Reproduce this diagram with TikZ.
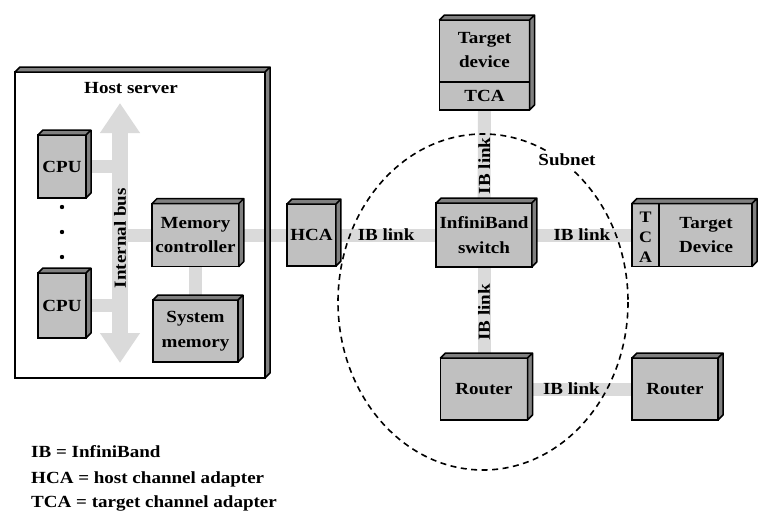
\documentclass[tikz,border=0pt]{standalone}
\usepackage{fontspec}
\setmainfont{Liberation Serif}[FakeStretch=1.12]
\usetikzlibrary{arrows.meta,backgrounds}
\definecolor{BoxGray}{RGB}{192,192,192}
\definecolor{SideGray}{RGB}{128,128,128}
\definecolor{LinkGray}{RGB}{218,218,218}
\newcommand{\diagfont}{\fontsize{17}{24.5}\selectfont\bfseries}
% top and right faces of a box
\newcommand{\boxsides}[1]{%
  \filldraw[fill=SideGray,line width=1.5pt,line join=round]
    (#1.north west) -- ++(5,-5) -- ([shift={(5,-5)}]#1.north east)
    -- ([shift={(5,-5)}]#1.south east) -- (#1.south east) -- (#1.north east) -- cycle
    (#1.north east) -- ++(5,-5);}

\begin{document}
\begin{tikzpicture}[x=1pt,y=-1pt,>=Latex,
    box/.style={draw,line width=1.5pt,fill=BoxGray,outer sep=0pt,align=center,font=\diagfont},
    txt/.style={font=\diagfont,text=black,align=center,inner sep=1pt},
    link/.style={line width=13pt,LinkGray},
    bus/.style={line width=16pt,LinkGray,{Triangle[length=30pt,width=38pt]}-{Triangle[length=30pt,width=38pt]}}]
  \useasboundingbox (0,0) rectangle (770,525);

  % host side
  \node[draw,line width=1.5pt,outer sep=0pt,minimum width=250pt,minimum height=306pt] (host) at (140,225) {};
  \boxsides{host}
  \node[txt] (hostlbl) at (131,88) {Host server};
  \coordinate (busT) at (120,103);
  \coordinate (busB) at (120,363);
  \node[box,minimum width=48pt,minimum height=63pt] (cpuA) at (62,166.5) {CPU};
  \node[box,minimum width=48pt,minimum height=65pt] (cpuB) at (62,305.5) {CPU};
  \foreach \y in {207,232,257} \fill (62,\y) circle (2.2pt);
  \node[box,minimum width=85pt,minimum height=63pt] (mc) at (195.5,235) {Memory\\controller};
  \node[box,minimum width=85pt,minimum height=62pt] (sysmem) at (195.5,331) {System\\memory};
  \node[box,minimum width=47pt,minimum height=62pt] (hca) at (311.5,235) {HCA};
  \foreach \n in {cpuA,cpuB,mc,sysmem,hca} \boxsides{\n};

  % subnet
  \node[box,minimum width=87pt,minimum height=64pt] (sw) at (484,235) {InfiniBand\\switch};
  \node[box,minimum width=90pt,minimum height=90pt] (tgt) at (484.5,65) {};
  \node[txt] (tgtlbl) at (484.5,50) {Target\\device};
  \node[txt] (tcaT) at (484.5,96) {TCA};
  \draw[line width=1.5pt] ([yshift=-62pt]tgt.north west) -- ([yshift=-62pt]tgt.north east);
  \node[box,minimum width=120pt,minimum height=63pt] (tdevR) at (692,235) {};
  \draw[line width=1.5pt] ([xshift=27pt]tdevR.north west) -- ([xshift=27pt]tdevR.south west);
  \node[txt,font=\fontsize{16}{20}\selectfont\bfseries] (tcaR) at (645.5,237) {T\\C\\A};
  \node[txt] (tdevRlbl) at (706,235) {Target\\Device};
  \node[box,minimum width=87pt,minimum height=62pt] (rtrA) at (484,389) {Router};
  \node[box,minimum width=86pt,minimum height=62pt] (rtrB) at (675,389) {Router};
  \foreach \n in {sw,tgt,tdevR,rtrA,rtrB} \boxsides{\n};

  \begin{scope}[on background layer]
    \draw[link] (cpuA.center) -- (cpuA.center -| busT);
    \draw[link] (cpuB.center) -- (cpuB.center -| busT);
    \draw[link] (mc.center) -- (mc.center -| busT);
    \draw[link] (mc) -- (sysmem);
    \draw[link] (mc) -- (hca);
    \draw[bus] (busT) -- (busB) node[txt,pos=.52,rotate=90] {Internal bus};
    \draw[link] (hca.east) -- (sw.west) node[txt,midway] {IB link};
    \draw[link] (tgt.south) -- (sw.north) node[txt,pos=.6,rotate=90] {IB link};
    \draw[link] (sw.east) -- (tdevR.west) node[txt,midway] {IB link};
    \draw[link] (sw.south) -- (rtrA.north) node[txt,midway,rotate=90] {IB link};
    \draw[link] (rtrA.east) -- (rtrB.west) node[txt,pos=.42] {IB link};
  \end{scope}

  \draw[line width=1.6pt,dash pattern=on 6pt off 4.5pt] (483,302) ellipse [x radius=145,y radius=168];
  \node[txt,fill=white,inner sep=3pt] (subnet) at (567,160) {Subnet};

  % legend
  \node[txt,anchor=base west] (legIB) at (30,457) {IB = InfiniBand};
  \node[txt,anchor=base west] (legHCA) at (30,483) {HCA = host channel adapter};
  \node[txt,anchor=base west] (legTCA) at (30,507) {TCA = target channel adapter};
\end{tikzpicture}
\end{document}
